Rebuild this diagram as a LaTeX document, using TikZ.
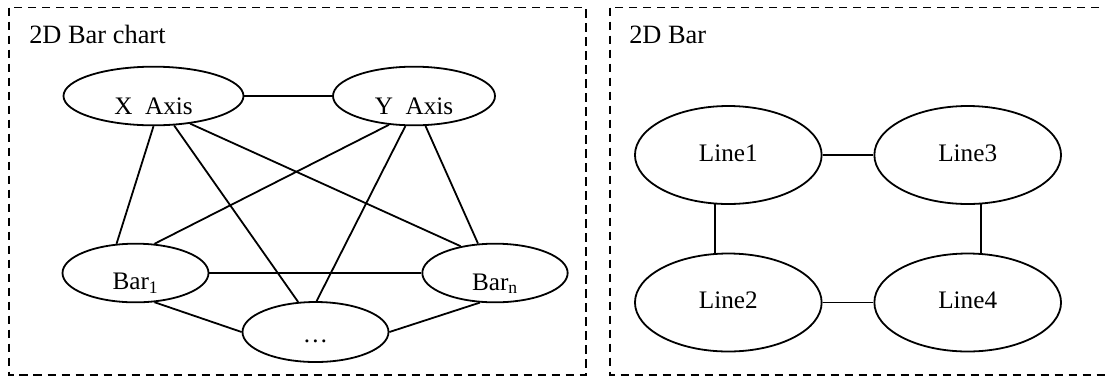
\documentclass[tikz,border=0pt]{standalone}
\usepackage{fontspec}
\setmainfont{Liberation Serif}
\usetikzlibrary{shapes.geometric}

\begin{document}
\begin{tikzpicture}[x=0.75pt, y=-0.75pt,
  frame/.style={draw, line width=0.9pt, dash pattern=on 6.2pt off 4.3pt},
  oval/.style={draw, ellipse, line width=1.35pt, inner sep=0pt},
  small oval/.style={oval, minimum height=44pt},
  big oval/.style={oval, minimum width=140pt, minimum height=73.5pt},
  lab/.style={anchor=base, inner sep=0pt, font=\fontsize{18.9}{22}\selectfont},
  title/.style={anchor=base west, inner sep=0pt, font=\fontsize{19.8}{23}\selectfont},
  link/.style={line width=1.35pt}
]
\useasboundingbox (0,0) rectangle (1105,376);

% panel frames
\draw[frame] (9,7.5) rectangle (586,375);
\draw[frame] (610,7.5) rectangle (1110,375);

\node[title] (t1) at (29,43.3) {2D Bar chart};
\node[title] (t2) at (629,43.3) {2D Bar};

% left panel: axes and bars
\node[small oval, minimum width=135pt,
      label={[lab, yshift=-7.9pt]center:X\ \ Axis}] (X) at (153.5,96) {};
\node[small oval, minimum width=121.5pt,
      label={[lab, yshift=-7.9pt]center:Y\ \ Axis}] (Y) at (414,96) {};
\node[small oval, minimum width=109.5pt,
      label={[lab, yshift=-7.9pt]center:Bar\textsubscript{1}}] (B1) at (135.5,273) {};
\node[small oval, minimum width=109pt,
      label={[lab, yshift=-7.9pt]center:Bar\textsubscript{n}}] (Bn) at (495,273) {};
\node[small oval, minimum width=109.5pt, minimum height=45pt,
      label={[lab, yshift=-7.3pt]center:…}] (D) at (315.5,332) {};

\draw[link] (X.east) -- (Y.west);
\draw[link] (X.south) -- (B1.123);
\draw[link] (X.-55) -- (D.120);
\draw[link] (X.-37) -- (Bn.142);
\draw[link] (Y.-131) -- (B1.57);
\draw[link] (Y.-106) -- (D.88);
\draw[link] (Y.-69) -- (Bn.120);
\draw[link] (B1.east) -- (Bn.west);
\draw[link] (B1.-57) -- (D.west);
\draw[link] (Bn.-117) -- (D.east);

% right panel: lines
\node[big oval, label={[lab, yshift=1.4pt]center:Line1}] (L1) at (728.3,155) {};
\node[big oval, label={[lab, yshift=1.4pt]center:Line3}] (L3) at (967.7,155) {};
\node[big oval, label={[lab, yshift=1.9pt]center:Line2}] (L2) at (728.3,302.5) {};
\node[big oval, label={[lab, yshift=1.9pt]center:Line4}] (L4) at (967.7,302.5) {};

\draw[link] (L1.east) -- (L3.west);
\draw[link] (L2.east) -- (L4.west);
\draw[link] (L1.-105) -- (L2.105);
\draw[link] (L3.-75) -- (L4.75);
\end{tikzpicture}
\end{document}
